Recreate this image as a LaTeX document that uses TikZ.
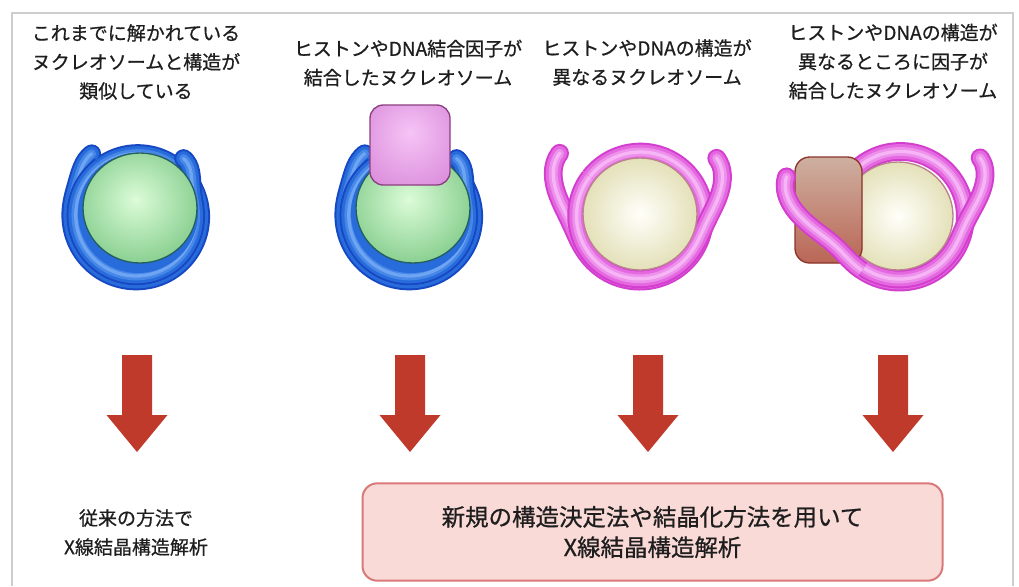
\documentclass[tikz,border=0pt]{standalone}
\usepackage{fontspec}
\setmainfont{Noto Sans CJK JP}[FakeBold=0.7]

\definecolor{txt}{RGB}{30,30,30}
\definecolor{framegray}{RGB}{205,205,205}
\definecolor{bEdge}{RGB}{22,72,196}
\definecolor{bBody}{RGB}{40,108,220}
\definecolor{bMid}{RGB}{70,135,232}
\definecolor{bLight}{RGB}{110,165,242}
\definecolor{mEdge}{RGB}{212,62,206}
\definecolor{mBody}{RGB}{228,105,224}
\definecolor{mMid}{RGB}{238,145,236}
\definecolor{mLight}{RGB}{246,182,245}
\definecolor{gHi}{RGB}{220,252,216}
\definecolor{gLo}{RGB}{72,172,88}
\definecolor{gEdge}{RGB}{35,95,95}
\definecolor{cHi}{RGB}{255,255,250}
\definecolor{cLo}{RGB}{200,194,120}
\definecolor{cEdge}{RGB}{185,130,140}
\definecolor{pHi}{RGB}{246,196,246}
\definecolor{pLo}{RGB}{204,112,204}
\definecolor{pEdge}{RGB}{140,62,130}
\definecolor{brTop}{RGB}{206,176,160}
\definecolor{brBot}{RGB}{186,102,86}
\definecolor{brEdge}{RGB}{140,52,42}
\definecolor{arrowred}{RGB}{192,58,44}
\definecolor{boxFill}{RGB}{250,218,215}
\definecolor{boxEdge}{RGB}{216,120,120}

% shaded histone cores and bound factor
\pgfdeclareradialshading{greenball}{\pgfpoint{-2bp}{4bp}}{color(0bp)=(gHi); color(50bp)=(gLo); color(70bp)=(gLo)}
\pgfdeclareradialshading{creamball}{\pgfpoint{0bp}{0bp}}{color(0bp)=(cHi); color(50bp)=(cLo); color(70bp)=(cLo)}
\pgfdeclareradialshading{purplebox}{\pgfpoint{0bp}{8bp}}{color(0bp)=(pHi); color(55bp)=(pLo); color(75bp)=(pLo)}

% Gaussian bump used to bend the DNA ends outward
\pgfmathdeclarefunction{bump}{2}{\pgfmathparse{exp(-min((#1/#2)*(#1/#2),20))}}
% radius of the DNA spiral around each core
\pgfmathdeclarefunction{rblue}{1}{\pgfmathparse{67-9*(#1-126)/645+10*bump(#1-126,20)+16*bump(771-#1,20)}}
\pgfmathdeclarefunction{rmag}{1}{\pgfmathparse{66-4*(#1-142)/615+36*bump(#1-142,30)+34*bump(757-#1,30)}}
\pgfmathdeclarefunction{rfour}{1}{\pgfmathparse{67-5*(#1-161)/595+53*bump(#1-161,28)+37*bump(756-#1,28)}}

% DNA tube: strokes from edge to highlight, round end at point #6
\newcommand\tube[6]{%
  \draw[line width=14pt, draw=#2, line join=round] #1;
  \fill[#2] #6 circle[radius=7pt];
  \draw[line width=11pt, draw=#3, line join=round] #1;
  \fill[#3] #6 circle[radius=5.5pt];
  \draw[line width=6.5pt, draw=#4, line join=round] #1;
  \fill[#4] #6 circle[radius=3.25pt];
  \draw[line width=2.5pt, draw=#5, line join=round] #1;
  \fill[#5] #6 circle[radius=1.25pt];}

% block arrow pointing down, centred at x = #1
\newcommand\downblock[1]{%
  \fill[arrowred] (#1-15,355) -- (#1+15,355) -- (#1+15,415) -- (#1+30.5,415)
    -- (#1,452) -- (#1-30.5,415) -- (#1-15,415) -- cycle;}

\begin{document}
\begin{tikzpicture}[x=0.75pt,y=-0.75pt,
  lbl/.style={align=center, text=txt, inner sep=0pt,
    font=\fontsize{14.25}{21.75}\selectfont},
  resultbox/.style={align=center, text=txt, fill=boxFill, draw=boxEdge,
    line width=1.5pt, rounded corners=11pt, minimum width=435pt,
    minimum height=73pt, font=\fontsize{17.6}{22.8}\selectfont}]
\useasboundingbox (0,0) rectangle (1019,586);
\fill[white] (0,0) rectangle (1019,586);
\draw[framegray, line width=1pt] (12,586) -- (12,13) -- (1013,13) -- (1013,586);

% ---- headings
\node[lbl] (t1) at (136,62) {これまでに解かれている\\ヌクレオソームと構造が\\類似している};
\node[lbl] (t2) at (408,63) {ヒストンやDNA結合因子が\\結合したヌクレオソーム};
\node[lbl] (t3) at (647,62.5) {ヒストンやDNAの構造が\\異なるヌクレオソーム};
\node[lbl] (t4) at (893,61.5) {ヒストンやDNAの構造が\\異なるところに因子が\\結合したヌクレオソーム};

% ---- 1: canonical nucleosome
\begin{scope}
  \coordinate (n1s) at ({137+rblue(126)*cos(126)},{216-rblue(126)*sin(126)});
  \coordinate (n1e) at ({137+rblue(771)*cos(771)},{216-rblue(771)*sin(771)});
  \tube{plot[domain=126:486, samples=120, variable=\t] ({137+rblue(\t)*cos(\t)},{216-rblue(\t)*sin(\t)})}{bEdge}{bBody}{bMid}{bLight}{(n1s)}
  \tube{plot[domain=486:771, samples=100, variable=\t] ({137+rblue(\t)*cos(\t)},{216-rblue(\t)*sin(\t)})}{bEdge}{bBody}{bMid}{bLight}{(n1e)}
  \fill[bBody] (138,213) circle[radius=60];
  \path[shading=greenball, shade, draw=gEdge, line width=1pt] (140,208) ellipse [x radius=57, y radius=55];
\end{scope}

% ---- 2: nucleosome with a bound factor
\begin{scope}[shift={(273,0)}]
  \coordinate (n2s) at ({137+rblue(126)*cos(126)},{216-rblue(126)*sin(126)});
  \coordinate (n2e) at ({137+rblue(771)*cos(771)},{216-rblue(771)*sin(771)});
  \tube{plot[domain=126:486, samples=120, variable=\t] ({137+rblue(\t)*cos(\t)},{216-rblue(\t)*sin(\t)})}{bEdge}{bBody}{bMid}{bLight}{(n2s)}
  \tube{plot[domain=486:771, samples=100, variable=\t] ({137+rblue(\t)*cos(\t)},{216-rblue(\t)*sin(\t)})}{bEdge}{bBody}{bMid}{bLight}{(n2e)}
  \fill[bBody] (138,213) circle[radius=60];
  \path[shading=greenball, shade, draw=gEdge, line width=1pt] (140,208) ellipse [x radius=57, y radius=55];
\end{scope}
\path[shading=purplebox, shade, draw=pEdge, line width=1pt, rounded corners=10pt] (370,105) rectangle (450,185);

% ---- 3: nucleosome with altered histone / DNA structure
\coordinate (n3s) at ({640+rmag(142)*cos(142)},{216-rmag(142)*sin(142)});
\coordinate (n3e) at ({640+rmag(757)*cos(757)},{216-rmag(757)*sin(757)});
\tube{plot[domain=142:502, samples=120, variable=\t] ({640+rmag(\t)*cos(\t)},{216-rmag(\t)*sin(\t)})}{mEdge}{mBody}{mMid}{mLight}{(n3s)}
\tube{plot[domain=502:757, samples=100, variable=\t] ({640+rmag(\t)*cos(\t)},{216-rmag(\t)*sin(\t)})}{mEdge}{mBody}{mMid}{mLight}{(n3e)}
\path[shading=creamball, shade, draw=cEdge, line width=1pt] (640,214) ellipse [x radius=57, y radius=56];

% ---- 4: altered nucleosome with a bound factor
\coordinate (n4s) at ({900+rfour(161)*cos(161)},{216-rfour(161)*sin(161)});
\coordinate (n4e) at ({900+rfour(756)*cos(756)},{216-rfour(756)*sin(756)});
\tube{plot[domain=161:521, samples=120, variable=\t] ({900+rfour(\t)*cos(\t)},{216-rfour(\t)*sin(\t)})}{mEdge}{mBody}{mMid}{mLight}{(n4s)}
\tube{plot[domain=521:756, samples=100, variable=\t] ({900+rfour(\t)*cos(\t)},{216-rfour(\t)*sin(\t)})}{mEdge}{mBody}{mMid}{mLight}{(n4e)}
\path[shading=creamball, shade, draw=cEdge, line width=1pt] (898,216) ellipse [x radius=55, y radius=54];
\path[top color=brTop, bottom color=brBot, draw=brEdge, line width=1pt, rounded corners=11pt] (795,157) rectangle (862,263);
% DNA end passing in front of the factor
\tube{plot[domain=161:235, samples=40, variable=\t] ({900+rfour(\t)*cos(\t)},{216-rfour(\t)*sin(\t)})}{mEdge}{mBody}{mMid}{mLight}{(n4s)}

% ---- arrows
\downblock{137}
\downblock{410}
\downblock{648}
\downblock{893}

% ---- results
\node[lbl] (r1) at (136,532.5) {従来の方法で\\X線結晶構造解析};
\node[resultbox] (r2) at (652.5,532) {新規の構造決定法や結晶化方法を用いて\\X線結晶構造解析};
\end{tikzpicture}
\end{document}
